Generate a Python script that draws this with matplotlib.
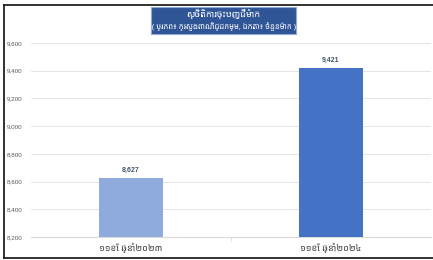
import matplotlib
matplotlib.use("Agg")
import matplotlib.pyplot as plt
from matplotlib.lines import Line2D
from matplotlib.patches import Rectangle

categories = ["១១ខែ ឆ្នាំ២០២៣", "១១ខែ ឆ្នាំ២០២៤"]
values = [8627, 9421]
value_labels = ["8,627", "9,421"]
yticks = [8200, 8400, 8600, 8800, 9000, 9200, 9400, 9600]
ytick_labels = ["8,200", "8,400", "8,600", "8,800", "9,000", "9,200", "9,400", "9,600"]
title_line1 = "ស្ថិតិការចុះបញ្ជីម៉ាក"
title_line2 = "( ប្រភព៖ ក្រសួងពាណិជ្ជកម្ម, ឯកតា៖ ចំនួនម៉ាក )"
bar_colors = ["#8faadc", "#4472c4"]

plt.rcParams['font.family'] = ['Noto Sans Khmer', 'Khmer OS', 'Noto Sans', 'DejaVu Sans']
num_font = ['Liberation Sans', 'DejaVu Sans']

W, H = 433, 260
fig = plt.figure(figsize=(W / 100, H / 100), dpi=100)
fig.patch.set_facecolor("white")

ax = fig.add_axes([31 / W, 23 / H, 400 / W, 194 / H])
x = list(range(len(categories)))
ax.bar(x, values, width=0.32, color=bar_colors, zorder=3)
ax.set_xlim(-0.5, len(categories) - 0.5)
ax.set_ylim(8200, 9600)
ax.set_yticks(yticks)
ax.set_yticklabels(ytick_labels, fontsize=4.5, color="#595959", family=num_font)
ax.set_xticks(x)
ax.set_xticklabels(categories, fontsize=6.5, color="#404040")
ax.tick_params(axis="x", length=0, pad=4)
ax.tick_params(axis="y", length=0, pad=6)
ax.set_xticks([0.5], minor=True)
ax.tick_params(axis="x", which="minor", length=3, color="#d9d9d9", width=0.6)
ax.grid(axis="y", color="#e0e0e0", linewidth=0.6, zorder=0)
for s in ["top", "right", "left"]:
    ax.spines[s].set_visible(False)
ax.spines["bottom"].set_color("#d9d9d9")
ax.spines["bottom"].set_linewidth(0.8)

for xi, v, lab in zip(x, values, value_labels):
    ax.text(xi, v + 30, lab, ha="center", va="bottom", fontsize=5,
            fontweight="bold", color="#44546a", family=num_font)

# outer frame lines
def px(xp, yp):
    return xp / W, 1 - yp / H

for (x0, y0, x1, y1) in [(4, 5, 433, 5), (4, 5, 4, 258), (4, 258, 433, 258)]:
    a, b = px(x0, y0)
    c, d = px(x1, y1)
    fig.add_artist(Line2D([a, c], [b, d], color="#222222", linewidth=1.3))

# title box
bx0, by0, bx1, by1 = 151, 7, 296, 34
fig.add_artist(Rectangle((bx0 / W, 1 - by1 / H), (bx1 - bx0) / W, (by1 - by0) / H,
                         facecolor="#2f5597", edgecolor="#8faadc", linewidth=0.8))
fig.text((bx0 + bx1) / 2 / W, 1 - 14 / H, title_line1, ha="center", va="center",
         fontsize=6.5, fontweight="bold", color="white")
fig.text((bx0 + bx1) / 2 / W, 1 - 26 / H, title_line2, ha="center", va="center",
         fontsize=5.5, color="white")

fig.savefig("out.png", dpi=100)
